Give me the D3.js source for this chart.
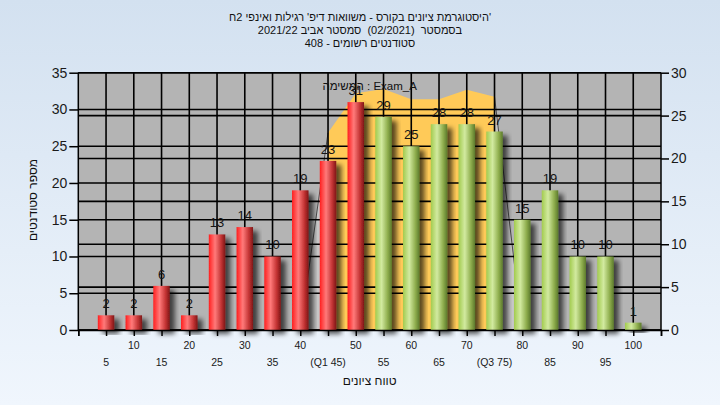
<!DOCTYPE html>
<html><head><meta charset="utf-8">
<script src="https://cdn.jsdelivr.net/npm/d3@7"></script>
<style>
body{margin:0;padding:0;overflow:hidden;}
svg{display:block;font-family:Arial,"Liberation Sans","DejaVu Sans",sans-serif;}
</style>
</head><body>
<svg id="chart" width="720" height="405"></svg>
<script>
// ---------- data ----------
const titleLines = [
  "'היסטוגרמת ציונים בקורס - משוואות דיפ' רגילות ואינפי 2ח",
  "בסמסטר  (02/2021)  סמסטר אביב 2021/22",
  "סטודנטים רשומים - 408"
];
const grades = [5,10,15,20,25,30,35,40,45,50,55,60,65,70,75,80,85,90,95,100];
const counts = [2,2,6,2,13,14,10,19,23,31,29,25,28,28,27,15,19,10,10,1];
const tickLabels = ["5","10","15","20","25","30","35","40","(Q1 45)","50","55","60","65","70","(Q3 75)","80","85","90","95","100"];
const leftTicks = [0,5,10,15,20,25,30,35];
const rightTicks = [0,5,10,15,20,25,30];
// inter-quartile overlay (read against the right axis)
const iqrGrades = [40,45,50,55,60,65,70,75,80];
const iqrValues = [0,23,27.6,28.1,26.9,26.9,28,27.2,0];
const q1 = 45, q3 = 75, passMark = 50;
const legendText = "המשימה : Exam_A";
const xTitle = "טווח ציונים";
const yTitle = "מספר סטודנטים";

// ---------- setup ----------
const svg = d3.select("#chart");
const W = 720, H = 405;
const plot = {left: 78.3, right: 661, top: 72.7, bottom: 330};

const defs = svg.append("defs");
const bg = defs.append("linearGradient").attr("id","bg").attr("x1",0).attr("y1",0).attr("x2",0).attr("y2",1);
bg.append("stop").attr("offset","0%").attr("stop-color","#d3e1f0");
bg.append("stop").attr("offset","100%").attr("stop-color","#f0f6fd");

function cyl(id, c0, c1, c2, c3) {
  const g = defs.append("linearGradient").attr("id", id).attr("x1",0).attr("y1",0).attr("x2",1).attr("y2",0);
  g.append("stop").attr("offset","0%").attr("stop-color",c0);
  g.append("stop").attr("offset","38%").attr("stop-color",c1);
  g.append("stop").attr("offset","75%").attr("stop-color",c2);
  g.append("stop").attr("offset","100%").attr("stop-color",c3);
}
cyl("red", "#ff1e1e", "#ff7a7a", "#c33434", "#7e1616");
cyl("green", "#a2cb4e", "#d2eaa0", "#8fae4e", "#5c7a2c");

const f = defs.append("filter").attr("id","shadow").attr("x","-30%").attr("y","-30%").attr("width","180%").attr("height","160%");
f.append("feDropShadow").attr("dx",5).attr("dy",4).attr("stdDeviation",2.4)
  .attr("flood-color","#000").attr("flood-opacity",0.65);

svg.append("rect").attr("width",W).attr("height",H).attr("fill","url(#bg)");

// ---------- scales ----------
const x = d3.scaleLinear().domain([0,105]).range([plot.left, plot.right]);
const yL = d3.scaleLinear().domain([0,35]).range([plot.bottom, plot.top]);
const yR = d3.scaleLinear().domain([0,30]).range([plot.bottom, plot.top]);

svg.append("rect").attr("x",plot.left).attr("y",plot.top)
  .attr("width",plot.right-plot.left).attr("height",plot.bottom-plot.top).attr("fill","#b4b4b4");

// ---------- IQR overlay ----------
const pts = iqrGrades.map((g,i)=>({g, v: iqrValues[i]}));
const area = d3.area().x(d=>x(d.g)).y0(yR(0)).y1(d=>yR(d.v));
const leftTail = pts.filter(d=>d.g<=q1), rightTail = pts.filter(d=>d.g>=q3);
const mid = pts.filter(d=>d.g>=q1 && d.g<=q3);
svg.append("path").datum(leftTail).attr("d",area).attr("fill","#c6c6c6");
svg.append("path").datum(rightTail).attr("d",area).attr("fill","#c6c6c6");
svg.append("path").datum(mid).attr("d",area).attr("fill","#ffca58");
const line = d3.line().x(d=>x(d.g)).y(d=>yR(d.v));
svg.append("path").datum(rightTail).attr("d",line).attr("fill","none").attr("stroke","#4a4a4a").attr("stroke-width",1);
svg.append("path").datum(leftTail).attr("d",line).attr("fill","none").attr("stroke","#4a4a4a").attr("stroke-width",1);

// ---------- grid ----------
const grid = svg.append("g").attr("stroke","#000").attr("stroke-width",1.6);
grid.selectAll(".gl").data(leftTicks).join("line")
  .attr("x1",plot.left).attr("x2",plot.right).attr("y1",d=>yL(d)).attr("y2",d=>yL(d));
grid.selectAll(".gr").data(rightTicks).join("line")
  .attr("x1",plot.left).attr("x2",plot.right).attr("y1",d=>yR(d)).attr("y2",d=>yR(d));
grid.selectAll(".gv").data(grades).join("line")
  .attr("x1",d=>x(d)).attr("x2",d=>x(d)).attr("y1",plot.top).attr("y2",plot.bottom);

// legend text
svg.append("text").attr("x",(plot.left+plot.right)/2).attr("y",90)
  .attr("text-anchor","middle").attr("font-size",11.5).attr("fill","#111").text(legendText);

// ---------- bars ----------
const bw = 16.5;
svg.append("g").selectAll("rect").data(grades).join("rect")
  .attr("x",d=>x(d)-bw/2).attr("width",bw)
  .attr("y",(d,i)=>yL(counts[i])).attr("height",(d,i)=>yL(0)-yL(counts[i]))
  .attr("fill",d=> d<=passMark ? "url(#red)" : "url(#green)")
  .attr("filter","url(#shadow)");

svg.append("g").selectAll("text").data(grades).join("text")
  .attr("x",d=>x(d)).attr("y",(d,i)=>yL(counts[i])-7)
  .attr("text-anchor","middle").attr("font-size",13).attr("fill","#151515")
  .attr("font-family","'Liberation Sans Narrow','Arial Narrow',Arial,sans-serif")
  .text((d,i)=>counts[i]);

// ---------- axes ----------
const axL = svg.append("g").attr("transform",`translate(${plot.left},0)`)
  .call(d3.axisLeft(yL).tickValues(leftTicks).tickSize(9).tickPadding(2).tickFormat(d3.format("d")));
const axR = svg.append("g").attr("transform",`translate(${plot.right},0)`)
  .call(d3.axisRight(yR).tickValues(rightTicks).tickSize(8).tickPadding(2).tickFormat(d3.format("d")));
const axB = svg.append("g").attr("transform",`translate(0,${plot.bottom})`)
  .call(d3.axisBottom(x).tickValues(d3.range(0,106,5)).tickSize(6).tickFormat(""));
[axL, axR, axB].forEach(a=>{
  a.select(".domain").attr("stroke","#000").attr("stroke-width",1.5);
  a.selectAll(".tick line").attr("stroke","#000").attr("stroke-width",1.5);
});
[axL, axR].forEach(a=>a.selectAll("text").attr("font-size",14).attr("fill","#1a1a1a")
  .attr("font-family","'Liberation Sans Narrow','Arial Narrow',Arial,sans-serif"));
axL.select(".domain").attr("d",`M0,${plot.top}V${plot.bottom}`);
axR.select(".domain").attr("d",`M0,${plot.top}V${plot.bottom}`);

// two-row bottom labels
svg.append("g").selectAll("text").data(grades).join("text")
  .attr("x",d=>x(d)).attr("y",d=> (d % 10 === 0) ? 349 : 366)
  .attr("text-anchor","middle").attr("font-size",10.5).attr("fill","#1a1a1a")
  .text((d,i)=>tickLabels[i]);

// ---------- titles (right-to-left Hebrew) ----------
svg.append("g").selectAll("text").data(titleLines).join("text")
  .attr("x",360).attr("y",(d,i)=>21+i*13)
  .attr("direction","rtl").style("direction","rtl").style("white-space","pre")
  .attr("text-anchor","middle").attr("font-size",11).attr("fill","#111")
  .text(d=>d);

svg.append("text").attr("x",(plot.left+plot.right)/2).attr("y",385)
  .attr("direction","rtl").style("direction","rtl")
  .attr("text-anchor","middle").attr("font-size",12).attr("fill","#111").text(xTitle);

svg.append("text").attr("transform","translate(37,200) rotate(-90)")
  .attr("text-anchor","middle").attr("font-size",12).attr("fill","#111").text(yTitle);
</script>
</body></html>
